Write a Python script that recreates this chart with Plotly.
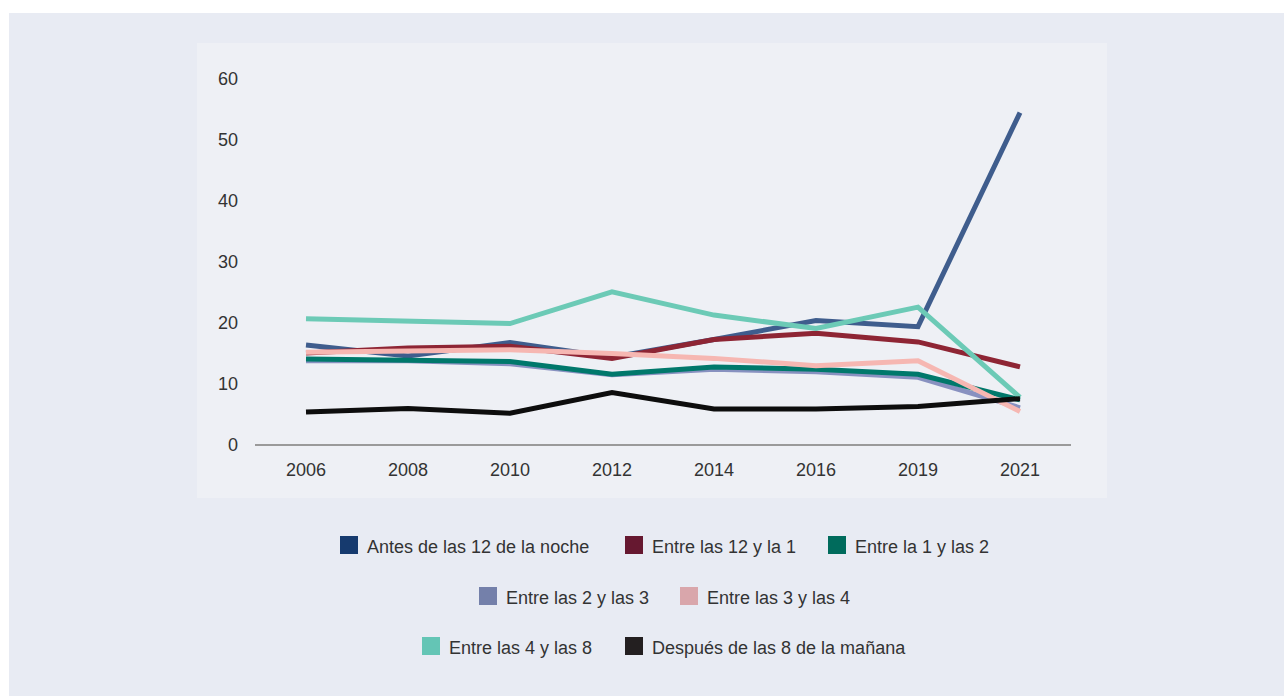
import plotly.graph_objects as go

# Survey years (categorical x axis)
years = ["2006", "2008", "2010", "2012", "2014", "2016", "2019", "2021"]

# Share of people (%) by time of returning home
antes_12 = [16.4, 14.6, 16.8, 14.4, 17.3, 20.4, 19.4, 54.5]
entre_12_1 = [15.1, 15.9, 16.2, 14.2, 17.3, 18.3, 16.9, 12.8]
entre_1_2 = [14.1, 13.9, 13.7, 11.6, 12.8, 12.4, 11.6, 7.4]
entre_2_3 = [13.8, 13.8, 13.3, 11.5, 12.4, 12.0, 11.1, 6.1]
entre_3_4 = [15.2, 15.3, 15.6, 15.0, 14.2, 13.0, 13.8, 5.5]
entre_4_8 = [20.7, 20.3, 19.9, 25.1, 21.3, 19.1, 22.6, 7.8]
despues_8 = [5.4, 6.0, 5.2, 8.6, 5.9, 5.9, 6.3, 7.6]

names = [
    "Antes de las 12 de la noche",
    "Entre las 12 y la 1",
    "Entre la 1 y las 2",
    "Entre las 2 y las 3",
    "Entre las 3 y las 4",
    "Entre las 4 y las 8",
    "Después de las 8 de la mañana",
]
series = [antes_12, entre_12_1, entre_1_2, entre_2_3, entre_3_4, entre_4_8, despues_8]
line_colors = ["#3f5d8d", "#8e2534", "#00786b", "#8891c0", "#f6b7b2", "#6ccab6", "#0d0d0d"]
swatch_colors = ["#163a6e", "#661830", "#006b5c", "#7480aa", "#d9a6ab", "#64c5b5", "#231f20"]

# drawing order: lavender under teal
draw_order = [0, 1, 3, 2, 4, 5, 6]

W, H = 1284, 696
px = lambda x: x / W
py = lambda y: 1 - y / H

FONT = "Liberation Sans, Arial, Helvetica, sans-serif"

fig = go.Figure()
for i in draw_order:
    fig.add_trace(go.Scatter(
        x=years, y=series[i], name=names[i], mode="lines",
        line=dict(color=line_colors[i], width=5),
        showlegend=False,
    ))

shapes = [
    dict(type="rect", xref="paper", yref="paper", x0=px(9), x1=1, y0=0, y1=py(13),
         fillcolor="#e8ebf3", line=dict(width=0), layer="below"),
    dict(type="rect", xref="paper", yref="paper", x0=px(197), x1=px(1107), y0=py(498), y1=py(43),
         fillcolor="#eef0f5", line=dict(width=0), layer="below"),
]

annotations = []
# legend rows: (index, swatch left x, row center y)
legend_items = [
    (0, 340, 545), (1, 625, 545), (2, 828, 545),
    (3, 479, 596), (4, 680, 596),
    (5, 422, 646), (6, 625, 646),
]
for idx, x0, yc in legend_items:
    shapes.append(dict(type="rect", xref="paper", yref="paper",
                       x0=px(x0), x1=px(x0 + 18), y0=py(yc + 9), y1=py(yc - 9),
                       fillcolor=swatch_colors[idx], line=dict(width=0)))
    annotations.append(dict(xref="paper", yref="paper", x=px(x0 + 25), y=py(yc + 2),
                            text=names[idx], showarrow=False, xanchor="left", yanchor="middle",
                            font=dict(size=18, color="#333333", family=FONT)))

fig.update_layout(
    template="none",
    width=W, height=H,
    margin=dict(l=0, r=0, t=0, b=0, pad=0, autoexpand=False),
    paper_bgcolor="white",
    plot_bgcolor="rgba(0,0,0,0)",
    showlegend=False,
    font=dict(family=FONT, size=18, color="#333333"),
    shapes=shapes,
    annotations=annotations,
    xaxis=dict(
        domain=[px(255), px(1071)], automargin=False,
        type="category", range=[-0.5, 7.5],
        showgrid=False, zeroline=False,
        showline=False, ticks="", ticklabelstandoff=12,
        tickfont=dict(size=18, color="#333333"),
    ),
    yaxis=dict(
        domain=[py(445), py(79)], automargin=False,
        range=[0, 60], tickvals=[0, 10, 20, 30, 40, 50, 60],
        showgrid=False, zeroline=True, zerolinecolor="#9a9a9a", zerolinewidth=2,
        showline=False, ticks="", ticklabelstandoff=16,
        tickfont=dict(size=18, color="#333333"),
    ),
)

fig.write_html("out.html")
